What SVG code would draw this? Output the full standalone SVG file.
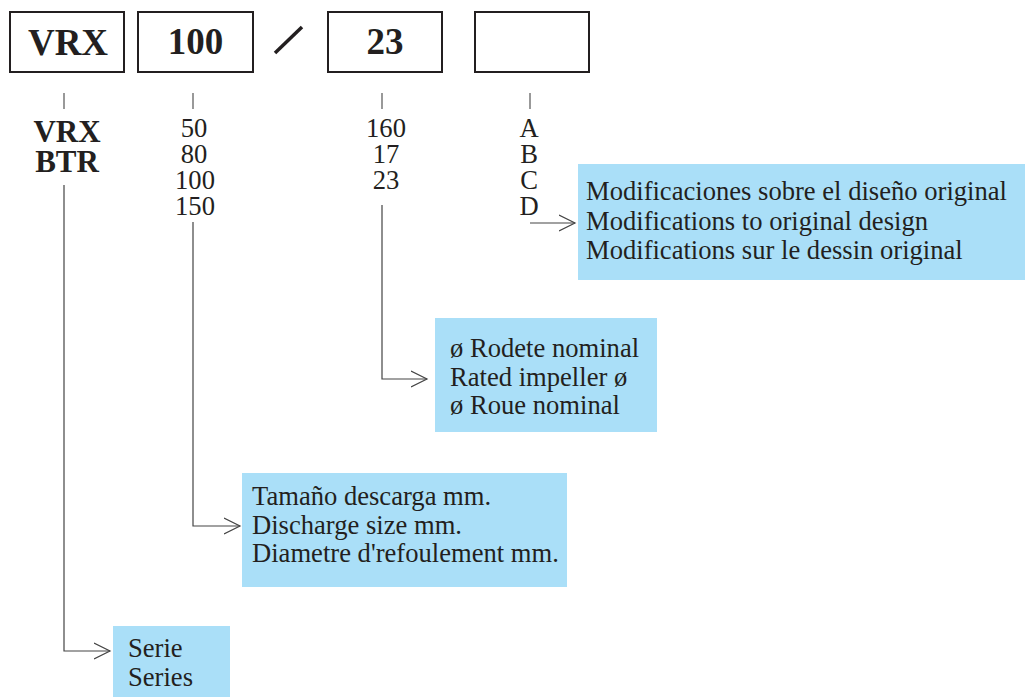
<svg xmlns="http://www.w3.org/2000/svg" width="1025" height="697" viewBox="0 0 1025 697">
<defs>
<style>
.code{fill:none;stroke:#231f20;stroke-width:2}
.tick{stroke:#555;stroke-width:1.2}
.conn{fill:none;stroke:#444;stroke-width:1.2}
.info{fill:#aadff8}
text{font-family:"Liberation Serif","Times New Roman",serif;fill:#231f20}
.b{font-weight:bold}
.big{font-size:37px}
.mid{font-size:31px}
.t{font-size:26.6px}
.c{text-anchor:middle}
</style>
<marker id="arr" viewBox="0 0 18 18" refX="16" refY="9" markerWidth="18" markerHeight="18" markerUnits="userSpaceOnUse" orient="auto">
<path d="M0,1 L16,9 L0,17" fill="none" stroke="#444" stroke-width="1.2"/>
</marker>
</defs>
<rect width="1025" height="697" fill="#fff"/>
<g id="code-boxes">
<g id="box-vrx"><rect class="code" x="10" y="12" width="114" height="60"/><text class="b big c" x="68" y="55">VRX</text></g>
<g id="box-100"><rect class="code" x="138" y="12" width="115" height="60"/><text class="b big c" x="195.5" y="54">100</text></g>
<line id="slash" x1="275" y1="53" x2="302" y2="27" stroke="#231f20" stroke-width="3.5"/>
<g id="box-23"><rect class="code" x="328" y="12" width="114" height="60"/><text class="b big c" x="385" y="54">23</text></g>
<g id="box-blank"><rect class="code" x="475" y="12" width="114" height="60"/></g>
</g>
<g id="ticks">
<line class="tick" x1="64" y1="93" x2="64" y2="109"/>
<line class="tick" x1="193" y1="93" x2="193" y2="109"/>
<line class="tick" x1="382" y1="93" x2="382" y2="109"/>
<line class="tick" x1="530" y1="93" x2="530" y2="109"/>
</g>
<g id="options">
<g id="opt-series"><text class="b mid c" x="67" y="142">VRX</text><text class="b mid c" x="67" y="172">BTR</text></g>
<g id="opt-size"><text class="t c" x="194" y="137">50</text><text class="t c" x="194" y="163">80</text><text class="t c" x="195" y="189">100</text><text class="t c" x="195" y="215">150</text></g>
<g id="opt-impeller"><text class="t c" x="386" y="137">160</text><text class="t c" x="386" y="163">17</text><text class="t c" x="386" y="189">23</text></g>
<g id="opt-mod"><text class="t c" x="529" y="137">A</text><text class="t c" x="529" y="163">B</text><text class="t c" x="529" y="189">C</text><text class="t c" x="529" y="215">D</text></g>
</g>
<g id="connectors">
<polyline class="conn" points="64,185 64,651 110,651" marker-end="url(#arr)"/>
<polyline class="conn" points="193,222 193,526 240,526" marker-end="url(#arr)"/>
<polyline class="conn" points="382,205 382,379 427,379" marker-end="url(#arr)"/>
<polyline class="conn" points="530,223 575,223" marker-end="url(#arr)"/>
</g>
<g id="info-mod"><rect class="info" x="578" y="164" width="447" height="116"/>
<text class="t" x="586" y="200">Modificaciones sobre el diseño original</text>
<text class="t" x="586" y="229.5">Modifications to original design</text>
<text class="t" x="586" y="259">Modifications sur le dessin original</text></g>
<g id="info-impeller"><rect class="info" x="435" y="318" width="222" height="114"/>
<text class="t" x="450" y="357">ø Rodete nominal</text>
<text class="t" x="450" y="385.5">Rated impeller ø</text>
<text class="t" x="450" y="414">ø Roue nominal</text></g>
<g id="info-size"><rect class="info" x="242" y="473" width="325" height="114"/>
<text class="t" x="252" y="505">Tamaño descarga mm.</text>
<text class="t" x="252" y="533.5">Discharge size mm.</text>
<text class="t" x="252" y="562">Diametre d'refoulement mm.</text></g>
<g id="info-series"><rect class="info" x="113" y="626" width="117" height="71"/>
<text class="t" x="128" y="657">Serie</text>
<text class="t" x="128" y="686">Series</text></g>
</svg>
